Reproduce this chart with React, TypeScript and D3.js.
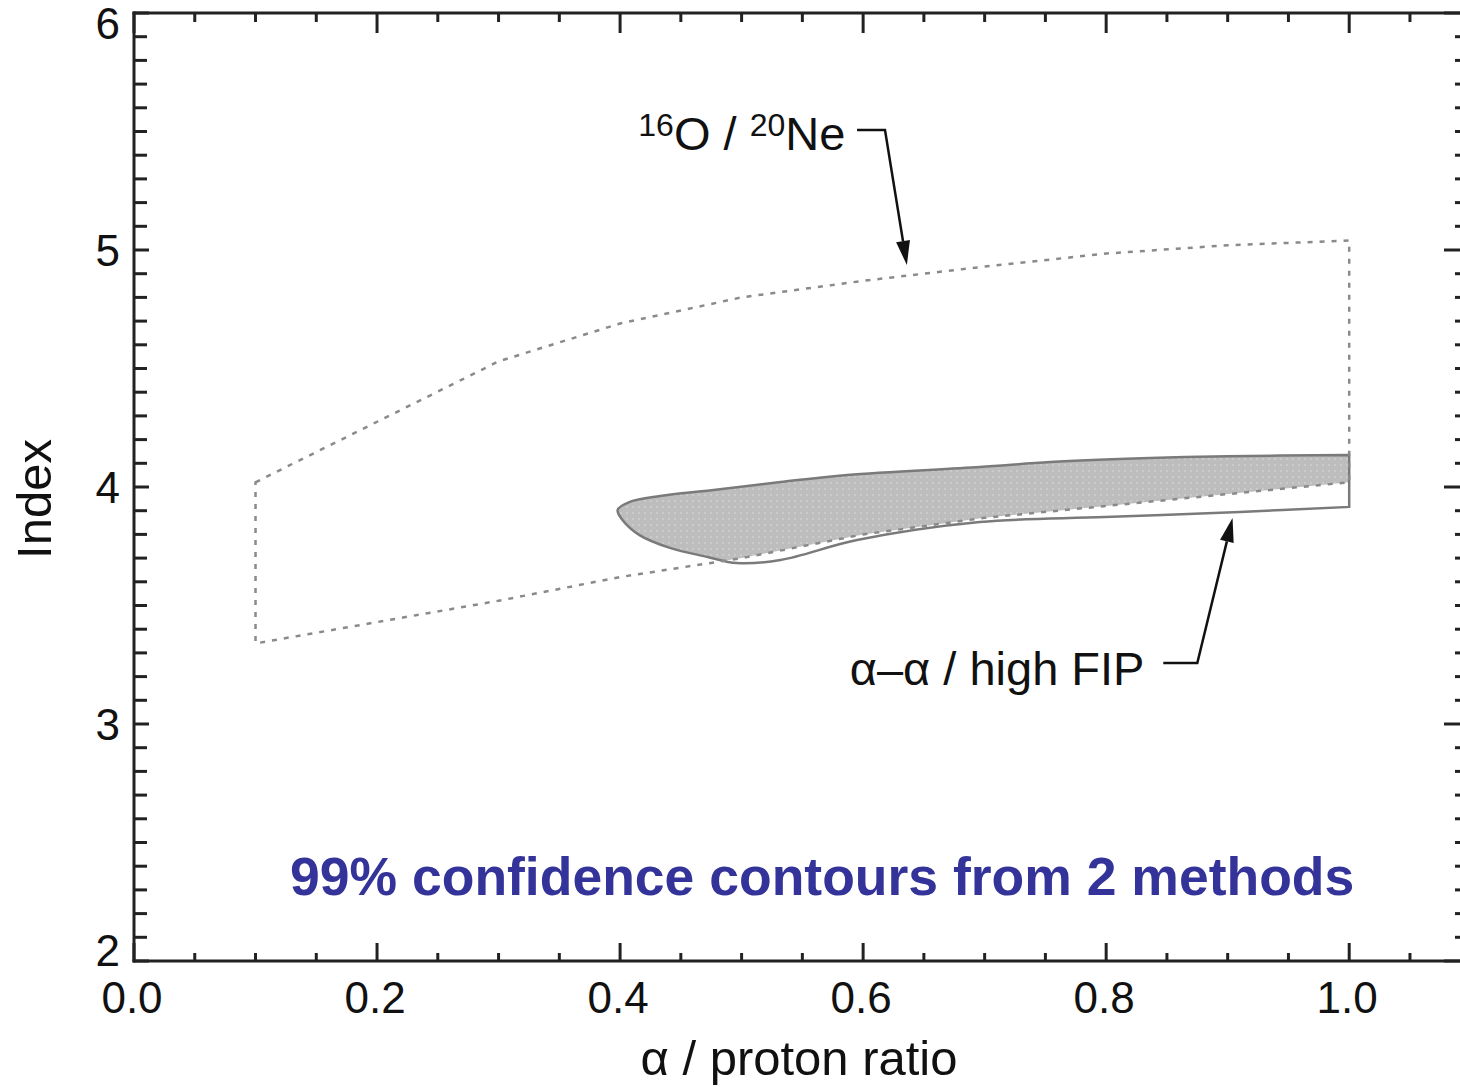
import React from "react";
import * as d3 from "d3";

const W = 1460;
const H = 1087;

// Axis ticks
const xMajorTicks = [0.0, 0.2, 0.4, 0.6, 0.8, 1.0];
const xTickLabels = ["0.0", "0.2", "0.4", "0.6", "0.8", "1.0"];
const yMajorTicks = [2, 3, 4, 5, 6];
const yTickLabels = ["2", "3", "4", "5", "6"];

// 16O / 20Ne 99% contour (dashed polygon)
const neUpperX = [0.1, 0.3, 0.4, 0.5, 0.6, 0.7, 0.8, 0.9, 1.0];
const neUpperY = [4.02, 4.53, 4.69, 4.8, 4.87, 4.93, 4.985, 5.02, 5.04];
const neLowerX = [1.0, 0.9, 0.8, 0.7, 0.6, 0.5, 0.4, 0.3, 0.2, 0.1];
const neLowerY = [4.02, 3.97, 3.92, 3.87, 3.8, 3.7, 3.62, 3.52, 3.43, 3.34];

// alpha-alpha / high FIP 99% contour
const aaX = [1.0, 0.9, 0.836, 0.754, 0.696, 0.587, 0.532, 0.477, 0.433, 0.408, 0.398, 0.402, 0.416, 0.441, 0.472, 0.496, 0.532, 0.595, 0.696, 0.799, 0.91, 1.0];
const aaY = [4.135, 4.13, 4.122, 4.105, 4.084, 4.051, 4.021, 3.987, 3.962, 3.937, 3.903, 3.861, 3.797, 3.743, 3.705, 3.679, 3.692, 3.776, 3.852, 3.873, 3.895, 3.916];

// annotations (data coordinates)
const neLabelPos = [0.415, 5.422];
const neArrow = [[0.595, 5.506], [0.618, 5.506], [0.636, 4.937]];
const aaLabelPos = [0.589, 3.165];
const aaArrow = [[0.847, 3.257], [0.875, 3.257], [0.904, 3.869]];

const FONT = "'Liberation Sans', Arial, Helvetica, sans-serif";

function Arrow({ pts, x, y }: { pts: number[][]; x: any; y: any }) {
  const p = pts.map((d) => [x(d[0]), y(d[1])]);
  const [a, b] = [p[p.length - 2], p[p.length - 1]];
  const ang = Math.atan2(b[1] - a[1], b[0] - a[0]);
  const L = 24;
  const w = 7;
  const bx = b[0] - L * Math.cos(ang);
  const by = b[1] - L * Math.sin(ang);
  const nx = -Math.sin(ang) * w;
  const ny = Math.cos(ang) * w;
  return (
    <g>
      <path d={d3.line()([...p.slice(0, -1), [bx, by]] as any) || ""} fill="none" stroke="#111" strokeWidth={2.5} />
      <path d={`M${b[0]},${b[1]}L${bx + nx},${by + ny}L${bx - nx},${by - ny}Z`} fill="#111" />
    </g>
  );
}

export default function App() {
  const x = d3.scaleLinear().domain([0, 1.092]).range([134, 1461]);
  const y = d3.scaleLinear().domain([2, 6]).range([961, 13]);

  const xMinor = d3.range(0, 1.09, 0.05).filter((v) => Math.abs(v * 5 - Math.round(v * 5)) > 1e-6);
  const yMinor = d3.range(2, 6.0001, 0.1).filter((v) => Math.abs(v - Math.round(v)) > 1e-6);

  const nePts: [number, number][] = [
    ...neUpperX.map((v, i) => [x(v), y(neUpperY[i])] as [number, number]),
    ...neLowerX.map((v, i) => [x(v), y(neLowerY[i])] as [number, number]),
  ];
  const nePath = d3.line()(nePts) + "Z";

  const aaPts: [number, number][] = aaX.map((v, i) => [x(v), y(aaY[i])]);
  const aaPath = d3.line().curve(d3.curveCatmullRom.alpha(0.5))(aaPts) + "Z";

  const axisColor = "#222";
  const left = x(0);
  const right = x(1.092);
  const top = y(6);
  const bottom = y(2);

  return (
    <svg width={W} height={H} style={{ position: "absolute", left: 0, top: 0, background: "#fff" }} fontFamily={FONT}>
      <defs>
        <clipPath id="neclip">
          <path d={nePath} />
        </clipPath>
        <pattern id="dots" width="6" height="6" patternUnits="userSpaceOnUse">
          <rect width="6" height="6" fill="#bdbdbd" />
          <rect x="2" y="2" width="2" height="2" fill="#cbcbcb" />
        </pattern>
      </defs>

      {/* filled intersection */}
      <path d={aaPath} fill="url(#dots)" clipPath="url(#neclip)" />
      <path d={aaPath} fill="none" stroke="#7a7a7a" strokeWidth={2.5} />
      <path d={nePath} fill="none" stroke="#8a8a8a" strokeWidth={2.5} strokeDasharray="5,7" />

      {/* axes lines */}
      <line x1={left} x2={left} y1={top - 1.5} y2={bottom + 1.5} stroke={axisColor} strokeWidth={3} />
      <line x1={left - 1.5} x2={right} y1={bottom} y2={bottom} stroke={axisColor} strokeWidth={3} />
      <line x1={left - 1.5} x2={right} y1={top} y2={top} stroke={axisColor} strokeWidth={3} />

      {/* x ticks */}
      {xMajorTicks.map((v, i) => (
        <g key={"xm" + i}>
          <line x1={x(v)} x2={x(v)} y1={bottom} y2={bottom - 18} stroke={axisColor} strokeWidth={3} />
          <line x1={x(v)} x2={x(v)} y1={top} y2={top + 20} stroke={axisColor} strokeWidth={3} />
          <text x={x(v) - 2} y={1013} textAnchor="middle" fontSize={44} fill="#111">
            {xTickLabels[i]}
          </text>
        </g>
      ))}
      {xMinor.map((v, i) => (
        <g key={"xn" + i}>
          <line x1={x(v)} x2={x(v)} y1={bottom} y2={bottom - 8} stroke={axisColor} strokeWidth={3} />
          <line x1={x(v)} x2={x(v)} y1={top} y2={top + 9} stroke={axisColor} strokeWidth={3} />
        </g>
      ))}

      {/* y ticks */}
      {yMajorTicks.map((v, i) => {
        const off = v === 6 ? 10 : v === 2 ? -11 : 0;
        return (
          <g key={"ym" + i}>
            <line x1={left} x2={left + 15} y1={y(v)} y2={y(v)} stroke={axisColor} strokeWidth={3} />
            <line x1={right} x2={right - 17} y1={y(v)} y2={y(v)} stroke={axisColor} strokeWidth={3} />
            <text x={120} y={y(v) + 16 + off} textAnchor="end" fontSize={44} fill="#111">
              {yTickLabels[i]}
            </text>
          </g>
        );
      })}
      {yMinor.map((v, i) => (
        <g key={"yn" + i}>
          <line x1={left} x2={left + 13} y1={y(v)} y2={y(v)} stroke={axisColor} strokeWidth={3} />
          <line x1={right} x2={right - 6} y1={y(v)} y2={y(v)} stroke={axisColor} strokeWidth={3} />
        </g>
      ))}

      {/* axis titles */}
      <text x={799} y={1075} textAnchor="middle" fontSize={49} fill="#111">
        α / proton ratio
      </text>
      <text transform={`translate(51,499) rotate(-90)`} textAnchor="middle" fontSize={49} fill="#111">
        Index
      </text>

      {/* annotations */}
      <text x={x(neLabelPos[0])} y={y(neLabelPos[1])} fontSize={47} fill="#111">
        <tspan fontSize={32} dy={-14}>16</tspan>
        <tspan dy={14}>O / </tspan>
        <tspan fontSize={32} dy={-14}>20</tspan>
        <tspan dy={14}>Ne</tspan>
      </text>
      <Arrow pts={neArrow} x={x} y={y} />

      <text x={x(aaLabelPos[0])} y={y(aaLabelPos[1])} fontSize={47} fill="#111">
        α–α / high FIP
      </text>
      <Arrow pts={aaArrow} x={x} y={y} />

      <text x={290} y={895} fontSize={53.5} fontWeight="bold" fill="#333399">
        99% confidence contours from 2 methods
      </text>
    </svg>
  );
}
